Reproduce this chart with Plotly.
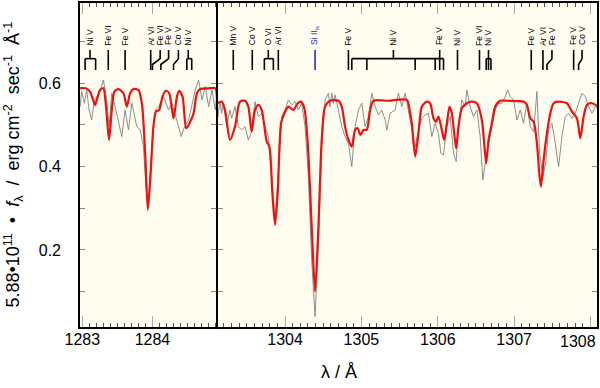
import plotly.graph_objects as go

# ------------------------------------------------------------------ data
# left panel (1283 - 1285 A)
MODEL_LEFT_WL = [1282.953, 1283.05, 1283.11, 1283.15, 1283.181, 1283.215, 1283.253, 1283.30, 1283.34,
                 1283.381, 1283.42, 1283.457, 1283.514, 1283.586, 1283.634, 1283.681, 1283.729, 1283.80,
                 1283.849, 1283.896, 1283.934, 1283.971, 1284.014, 1284.049, 1284.096, 1284.143, 1284.191,
                 1284.239, 1284.30, 1284.349, 1284.381, 1284.429, 1284.481, 1284.539, 1284.586, 1284.634,
                 1284.681, 1284.80, 1284.896, 1284.92]
MODEL_LEFT_FLUX = [0.588, 0.588, 0.580, 0.562, 0.548, 0.565, 0.584, 0.588, 0.540,
                   0.464, 0.535, 0.580, 0.586, 0.576, 0.544, 0.576, 0.586, 0.584,
                   0.552, 0.432, 0.296, 0.376, 0.496, 0.532, 0.536, 0.568, 0.582,
                   0.576, 0.516, 0.568, 0.582, 0.568, 0.492, 0.508, 0.528, 0.576,
                   0.586, 0.588, 0.588, 0.560]

OBS_LEFT_WL = [1282.953, 1282.967, 1282.991, 1283.029, 1283.063, 1283.096, 1283.134, 1283.172, 1283.206,
               1283.253, 1283.301, 1283.348, 1283.382, 1283.420, 1283.467, 1283.515, 1283.563, 1283.610,
               1283.658, 1283.706, 1283.777, 1283.825, 1283.872, 1283.906, 1283.934, 1283.972, 1284.015,
               1284.048, 1284.086, 1284.158, 1284.229, 1284.277, 1284.325, 1284.372, 1284.410, 1284.458,
               1284.515, 1284.563, 1284.610, 1284.658, 1284.706, 1284.753, 1284.801, 1284.849, 1284.896,
               1284.92]
OBS_LEFT_FLUX = [0.576, 0.544, 0.580, 0.552, 0.584, 0.536, 0.512, 0.560, 0.568,
                 0.580, 0.608, 0.560, 0.496, 0.576, 0.544, 0.504, 0.472, 0.536,
                 0.488, 0.552, 0.496, 0.488, 0.448, 0.352, 0.304, 0.392, 0.504,
                 0.536, 0.544, 0.568, 0.536, 0.552, 0.520, 0.496, 0.472, 0.496,
                 0.512, 0.552, 0.584, 0.608, 0.560, 0.592, 0.544, 0.584, 0.536,
                 0.576]

# right panel (1303 - 1308 A)
MODEL_RIGHT_WL = [1303.109, 1303.170, 1303.214, 1303.279, 1303.345, 1303.410, 1303.476, 1303.519, 1303.563,
                  1303.607, 1303.650, 1303.694, 1303.760, 1303.795, 1303.834, 1303.869, 1303.904, 1303.948,
                  1303.991, 1304.044, 1304.109, 1304.166, 1304.210, 1304.253, 1304.297, 1304.349, 1304.393,
                  1304.437, 1304.480, 1304.524, 1304.590, 1304.699, 1304.743, 1304.786, 1304.830, 1304.874,
                  1304.917, 1304.952, 1304.987, 1305.027, 1305.070, 1305.114, 1305.158, 1305.354, 1305.595,
                  1305.638, 1305.660, 1305.704, 1305.747, 1305.791, 1305.856, 1305.900, 1305.944, 1305.979,
                  1306.009, 1306.053, 1306.084, 1306.119, 1306.154, 1306.184, 1306.215, 1306.241, 1306.271,
                  1306.315, 1306.381, 1306.446, 1306.512, 1306.577, 1306.608, 1306.634, 1306.665, 1306.708,
                  1306.752, 1306.818, 1306.905, 1307.123, 1307.167, 1307.211, 1307.255, 1307.298, 1307.333,
                  1307.351, 1307.386, 1307.429, 1307.473, 1307.517, 1307.582, 1307.691, 1307.757, 1307.822,
                  1307.866, 1307.910, 1307.953, 1308.019, 1308.1]
MODEL_RIGHT_FLUX = [0.552, 0.556, 0.536, 0.464, 0.496, 0.556, 0.558, 0.544, 0.484,
                    0.536, 0.548, 0.536, 0.460, 0.448, 0.336, 0.260, 0.336, 0.504,
                    0.528, 0.544, 0.536, 0.552, 0.556, 0.540, 0.456, 0.256, 0.100,
                    0.256, 0.464, 0.544, 0.558, 0.558, 0.544, 0.496, 0.464, 0.448,
                    0.488, 0.492, 0.476, 0.488, 0.488, 0.536, 0.558, 0.558, 0.560,
                    0.528, 0.504, 0.424, 0.480, 0.544, 0.556, 0.552, 0.516, 0.508,
                    0.520, 0.488, 0.464, 0.504, 0.544, 0.528, 0.480, 0.444, 0.496,
                    0.540, 0.552, 0.556, 0.552, 0.512, 0.456, 0.408, 0.464, 0.504,
                    0.544, 0.558, 0.558, 0.556, 0.548, 0.516, 0.508, 0.456, 0.376,
                    0.352, 0.416, 0.480, 0.528, 0.552, 0.556, 0.552, 0.532, 0.516,
                    0.468, 0.520, 0.548, 0.552, 0.544]

OBS_RIGHT_WL = [1303.118, 1303.148, 1303.170, 1303.192, 1303.236, 1303.279, 1303.301, 1303.345, 1303.388,
                1303.432, 1303.476, 1303.519, 1303.554, 1303.607, 1303.650, 1303.694, 1303.738, 1303.782,
                1303.825, 1303.869, 1303.913, 1303.956, 1304.000, 1304.044, 1304.087, 1304.131, 1304.175,
                1304.218, 1304.262, 1304.306, 1304.349, 1304.393, 1304.437, 1304.480, 1304.524, 1304.568,
                1304.590, 1304.612, 1304.633, 1304.655, 1304.699, 1304.743, 1304.786, 1304.830, 1304.874,
                1304.917, 1304.961, 1305.005, 1305.048, 1305.092, 1305.136, 1305.180, 1305.223, 1305.267,
                1305.311, 1305.333, 1305.376, 1305.442, 1305.485, 1305.529, 1305.573, 1305.616, 1305.660,
                1305.704, 1305.747, 1305.791, 1305.835, 1305.878, 1305.922, 1305.966, 1306.009, 1306.040,
                1306.075, 1306.119, 1306.162, 1306.206, 1306.241, 1306.271, 1306.315, 1306.359, 1306.381,
                1306.424, 1306.468, 1306.512, 1306.555, 1306.590, 1306.634, 1306.665, 1306.708, 1306.752,
                1306.796, 1306.839, 1306.883, 1306.914, 1306.949, 1306.993, 1307.036, 1307.080, 1307.123,
                1307.167, 1307.211, 1307.255, 1307.298, 1307.333, 1307.377, 1307.412, 1307.451, 1307.495,
                1307.525, 1307.582, 1307.626, 1307.669, 1307.713, 1307.757, 1307.800, 1307.844, 1307.888,
                1307.932, 1307.975, 1308.019, 1308.063, 1308.1]
OBS_RIGHT_FLUX = [0.516, 0.556, 0.528, 0.552, 0.496, 0.536, 0.516, 0.544, 0.496,
                  0.488, 0.496, 0.464, 0.480, 0.556, 0.520, 0.528, 0.496, 0.472,
                  0.376, 0.270, 0.392, 0.520, 0.536, 0.560, 0.548, 0.556, 0.536,
                  0.552, 0.496, 0.376, 0.176, 0.040, 0.216, 0.448, 0.560, 0.576,
                  0.544, 0.576, 0.552, 0.572, 0.536, 0.496, 0.472, 0.456, 0.400,
                  0.496, 0.536, 0.552, 0.496, 0.520, 0.576, 0.544, 0.524, 0.536,
                  0.512, 0.488, 0.528, 0.536, 0.576, 0.544, 0.576, 0.536, 0.496,
                  0.448, 0.488, 0.516, 0.524, 0.528, 0.472, 0.504, 0.480, 0.432,
                  0.428, 0.496, 0.520, 0.432, 0.412, 0.496, 0.560, 0.544, 0.584,
                  0.544, 0.520, 0.536, 0.472, 0.368, 0.424, 0.456, 0.496, 0.536,
                  0.552, 0.552, 0.568, 0.584, 0.568, 0.560, 0.512, 0.536, 0.504,
                  0.552, 0.496, 0.484, 0.580, 0.432, 0.376, 0.408, 0.488, 0.504,
                  0.472, 0.400, 0.472, 0.520, 0.528, 0.516, 0.528, 0.552, 0.576,
                  0.568, 0.544, 0.528, 0.544, 0.536]

# line identifications
LEFT_ID_LABELS = ["Ni V", "Fe VI", "Fe V", "Ar VI", "Fe VI", "Fe V", "Co V", "Ni V"]
LEFT_ID_LABEL_WL = [1283.11, 1283.37, 1283.61, 1283.975, 1284.11, 1284.23, 1284.37, 1284.51]
LEFT_ID_LINES_WL = [[1283.04, 1283.19], [1283.37], [1283.61], [1283.975], [1284.0], [1284.12],
                    [1284.30], [1284.49, 1284.56]]

RIGHT_ID_LABELS = ["Mn V", "Co V", "O VI", "Ar VI", "Si II<sub>is</sub>", "Fe V", "Ni V", "Fe V",
                   "Ni V", "Fe VI", "Ni V", "Fe V", "Ar VI", "Fe V", "Fe V", "Co V"]
RIGHT_ID_LABEL_WL = [1303.322, 1303.571, 1303.781, 1303.912, 1304.393, 1304.830, 1305.419, 1306.025,
                     1306.258, 1306.546, 1306.664, 1307.224, 1307.377, 1307.495, 1307.779, 1307.889]
RIGHT_ID_LINES_WL = [[1303.322], [1303.571], [1303.729, 1303.847], [1303.912], [1304.393], [1304.830],
                     [1304.874, 1305.071, 1305.704, 1305.966, 1306.075], [1306.025], [1306.258],
                     [1306.546], [1306.634, 1306.664, 1306.696], [1307.224], [1307.377], [1307.430],
                     [1307.779], [1307.844]]
RIGHT_ID_IS_INTERSTELLAR = [False, False, False, False, True, False, False, False,
                            False, False, False, False, False, False, False, False]

X_LEFT_TICKS = [1283, 1284]
X_RIGHT_TICKS = [1304, 1305, 1306, 1307, 1308]
Y_TICKS = [0.2, 0.4, 0.6]

# ------------------------------------------------------------------ style / layout
FONT = "Liberation Sans, Arial, Helvetica, sans-serif"
BG = "#fffdf0"
SPLIT = 138 / 519
X_LEFT_RANGE = [1282.953, 1284.92]
X_RIGHT_RANGE = [1303.109, 1308.098]
Y_RANGE = [0.0127, 0.795]
Y_TOP, Y_BAR, Y_KNEE, Y_BOT, Y_LABEL = 0.680, 0.659, 0.645, 0.632, 0.686
ID_FONT_SIZE = 8.5


def id_paths(label_wl, lines_wl):
    xs, ys = [], []
    for lx, comps in zip(label_wl, lines_wl):
        if len(comps) == 1:
            c = comps[0]
            if abs(c - lx) < 1e-3:
                xs += [lx, lx, None]
                ys += [Y_TOP, Y_BOT, None]
            else:
                xs += [lx, lx, c, c, None]
                ys += [Y_TOP, Y_BAR, Y_KNEE, Y_BOT, None]
        else:
            xs += [lx, lx, None]
            ys += [Y_TOP, Y_BAR, None]
            lo, hi = min(comps + [lx]), max(comps + [lx])
            xs += [lo, hi, None]
            ys += [Y_BAR, Y_BAR, None]
            for c in comps:
                xs += [c, c, None]
                ys += [Y_BAR, Y_BOT, None]
    return xs, ys


fig = go.Figure()

# observed spectra (gray)
fig.add_trace(go.Scatter(x=OBS_LEFT_WL, y=OBS_LEFT_FLUX, mode="lines",
                         line=dict(color="#808080", width=0.9), xaxis="x", yaxis="y"))
fig.add_trace(go.Scatter(x=OBS_RIGHT_WL, y=OBS_RIGHT_FLUX, mode="lines",
                         line=dict(color="#808080", width=0.9), xaxis="x2", yaxis="y2"))
# model spectra (red)
fig.add_trace(go.Scatter(x=MODEL_LEFT_WL, y=MODEL_LEFT_FLUX, mode="lines",
                         line=dict(color="#ee1111", width=2.2, shape="spline", smoothing=0.7),
                         xaxis="x", yaxis="y"))
fig.add_trace(go.Scatter(x=MODEL_RIGHT_WL, y=MODEL_RIGHT_FLUX, mode="lines",
                         line=dict(color="#ee1111", width=2.2, shape="spline", smoothing=0.7),
                         xaxis="x2", yaxis="y2"))

# identification markers
lx, ly = id_paths(LEFT_ID_LABEL_WL, LEFT_ID_LINES_WL)
fig.add_trace(go.Scatter(x=lx, y=ly, mode="lines", line=dict(color="black", width=1.6),
                         xaxis="x", yaxis="y"))
blk = [i for i, b in enumerate(RIGHT_ID_IS_INTERSTELLAR) if not b]
blu = [i for i, b in enumerate(RIGHT_ID_IS_INTERSTELLAR) if b]
rx, ry = id_paths([RIGHT_ID_LABEL_WL[i] for i in blk], [RIGHT_ID_LINES_WL[i] for i in blk])
fig.add_trace(go.Scatter(x=rx, y=ry, mode="lines", line=dict(color="black", width=1.6),
                         xaxis="x2", yaxis="y2"))
bx, by = id_paths([RIGHT_ID_LABEL_WL[i] for i in blu], [RIGHT_ID_LINES_WL[i] for i in blu])
fig.add_trace(go.Scatter(x=bx, y=by, mode="lines", line=dict(color="#2828d8", width=1.6),
                         xaxis="x2", yaxis="y2"))

annotations = []
for txt, x in zip(LEFT_ID_LABELS, LEFT_ID_LABEL_WL):
    annotations.append(dict(x=x, y=Y_LABEL, xref="x", yref="y", text=txt, textangle=-90,
                            showarrow=False, xanchor="center", yanchor="bottom",
                            font=dict(size=ID_FONT_SIZE, color="black", family=FONT)))
for txt, x, isis in zip(RIGHT_ID_LABELS, RIGHT_ID_LABEL_WL, RIGHT_ID_IS_INTERSTELLAR):
    annotations.append(dict(x=x, y=Y_LABEL, xref="x2", yref="y2", text=txt, textangle=-90,
                            showarrow=False, xanchor="center", yanchor="bottom",
                            font=dict(size=ID_FONT_SIZE, color="#2828d8" if isis else "black",
                                      family=FONT)))

# axis titles
annotations.append(dict(x=0.5, y=-0.135, xref="paper", yref="paper", text="λ / Å",
                        showarrow=False, xanchor="center", yanchor="middle",
                        font=dict(size=18, color="black", family=FONT)))
annotations.append(dict(x=-0.128, y=0.5, xref="paper", yref="paper", textangle=-90,
                        text="5.88•10<sup>11</sup>&nbsp; • &nbsp;<i>f</i><sub>λ</sub> &nbsp;/&nbsp; erg&nbsp;cm<sup>-2</sup>&nbsp; sec<sup>-1</sup>&nbsp; Å<sup>-1</sup>",
                        showarrow=False, xanchor="center", yanchor="middle",
                        font=dict(size=18, color="black", family=FONT)))
# last tick label of the right panel, kept inside the page
annotations.append(dict(x=1.0, y=0, xref="paper", yref="paper", text="1308",
                        showarrow=False, xanchor="right", yanchor="top", yshift=-3,
                        font=dict(size=16, color="black", family=FONT)))

common_x = dict(ticks="inside", ticklen=12, tickcolor="#aaaaaa", tickwidth=1, mirror="ticks",
                showgrid=False, zeroline=False, showline=False,
                tickfont=dict(size=16, color="black", family=FONT))
minor_x = dict(tickmode="linear", dtick=0.1, ticks="inside", ticklen=5,
               tickcolor="#555555", tickwidth=1, showgrid=False)
common_y = dict(range=Y_RANGE, domain=[0, 1], ticks="inside", ticklen=6, tickcolor="#888888",
                tickwidth=1, mirror="ticks", showgrid=False, zeroline=False, showline=False,
                tickvals=Y_TICKS, tickformat=".1f",
                minor=dict(tickmode="linear", tick0=0, dtick=0.1, ticks="inside", ticklen=6,
                           tickcolor="#888888", tickwidth=1, showgrid=False))

fig.update_layout(
    width=600, height=388,
    margin=dict(l=79, r=2, t=2, b=60),
    paper_bgcolor="white", plot_bgcolor=BG,
    showlegend=False,
    font=dict(family=FONT, color="black"),
    xaxis=dict(domain=[0, SPLIT], range=X_LEFT_RANGE, tickvals=X_LEFT_TICKS, anchor="y",
               minor=dict(minor_x, tick0=1283), **common_x),
    xaxis2=dict(domain=[SPLIT, 1], range=X_RIGHT_RANGE, tickvals=X_RIGHT_TICKS,
                ticktext=[str(t) if t != 1308 else " " for t in X_RIGHT_TICKS], anchor="y2",
                minor=dict(minor_x, tick0=1304), **common_x),
    yaxis=dict(anchor="x", tickfont=dict(size=16, color="black", family=FONT),
               ticklabelstandoff=17, **common_y),
    yaxis2=dict(anchor="x2", matches="y", showticklabels=False, **common_y),
    annotations=annotations,
    shapes=[
        dict(type="rect", xref="paper", yref="paper", x0=0, x1=1, y0=0, y1=1,
             line=dict(color="black", width=2), layer="above"),
        dict(type="line", xref="paper", yref="paper", x0=SPLIT, x1=SPLIT, y0=0, y1=1,
             line=dict(color="black", width=2), layer="above"),
    ],
)

fig.write_html("out.html", config={"displayModeBar": False},
               post_script="document.body.style.margin='0';document.body.style.padding='0';"
                           "document.body.style.overflow='hidden';")
